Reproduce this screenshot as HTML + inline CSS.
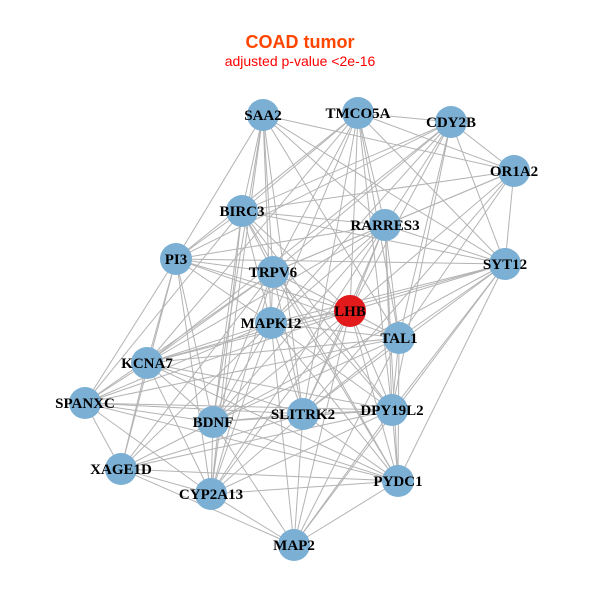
<!DOCTYPE html>
<html><head><meta charset="utf-8"><style>
html,body{margin:0;padding:0;background:#fff;width:600px;height:600px;overflow:hidden}
svg{display:block}
.l{font-family:"Liberation Serif",serif;font-weight:bold;font-size:15px;fill:#000;text-anchor:middle;dominant-baseline:central}
</style></head><body>
<svg id="s" width="600" height="600" viewBox="0 0 600 600">
<text x="300" y="48" text-anchor="middle" font-family="Liberation Sans,sans-serif" font-weight="bold" font-size="18" fill="#FF4500">COAD tumor</text>
<text x="300" y="66" text-anchor="middle" font-family="Liberation Sans,sans-serif" font-size="14" fill="#FF0000">adjusted p-value &lt;2e-16</text>
<g id="e" stroke="#b3b3b3" stroke-width="1"></g>
<g id="n"></g>
</svg>
<script>
var N={A:["SAA2",263,115],B:["TMCO5A",358,113],C:["CDY2B",451,122],D:["OR1A2",514,171],E:["BIRC3",242,211],F:["RARRES3",385,225],G:["PI3",176,259],H:["TRPV6",273,272],I:["SYT12",505,264],J:["LHB",350,311],K:["MAPK12",271,323],L:["TAL1",399,338],M:["KCNA7",147,363],N:["SPANXC",85,403],O:["BDNF",213,422],P:["SLITRK2",303,414],Q:["DPY19L2",392,410],R:["XAGE1D",121,469],S:["CYP2A13",211,494],T:["PYDC1",398,481],U:["MAP2",294,545]};
var E={A:"EHKOSPFIDGL",B:"CDEFHJKLQGMPI",C:"DEFHKJLGMIQ",D:"FEIJLHP",E:"GHKJFIOSQTN",F:"GHIJKLMPQOTS",G:"HKMNOSRJLI",H:"KJMNOPSRTQ",I:"JLKMOPQTU",J:"KLPQOSTUMN",K:"MNOPQRSTUL",L:"PQTUMON",M:"NORSPQT",N:"ORSPTQ",O:"PRSUQT",P:"QSUTR",Q:"TUSR",R:"SUT",S:"TU",T:"U"};
var ns="http://www.w3.org/2000/svg",ge=document.getElementById("e"),gn=document.getElementById("n");
for(var a in E){for(var i=0;i<E[a].length;i++){var b=E[a][i],l=document.createElementNS(ns,"line");l.setAttribute("x1",N[a][1]);l.setAttribute("y1",N[a][2]);l.setAttribute("x2",N[b][1]);l.setAttribute("y2",N[b][2]);ge.appendChild(l);}}
for(var k in N){var c=document.createElementNS(ns,"circle");c.setAttribute("cx",N[k][1]);c.setAttribute("cy",N[k][2]);c.setAttribute("r",16);c.setAttribute("fill",k=="J"?"#E31A1C":"#7BAFD4");gn.appendChild(c);}
for(var k in N){var t=document.createElementNS(ns,"text");t.setAttribute("x",N[k][1]);t.setAttribute("y",N[k][2]+1);t.setAttribute("class","l");t.textContent=N[k][0];gn.appendChild(t);}
</script>
</body></html>
